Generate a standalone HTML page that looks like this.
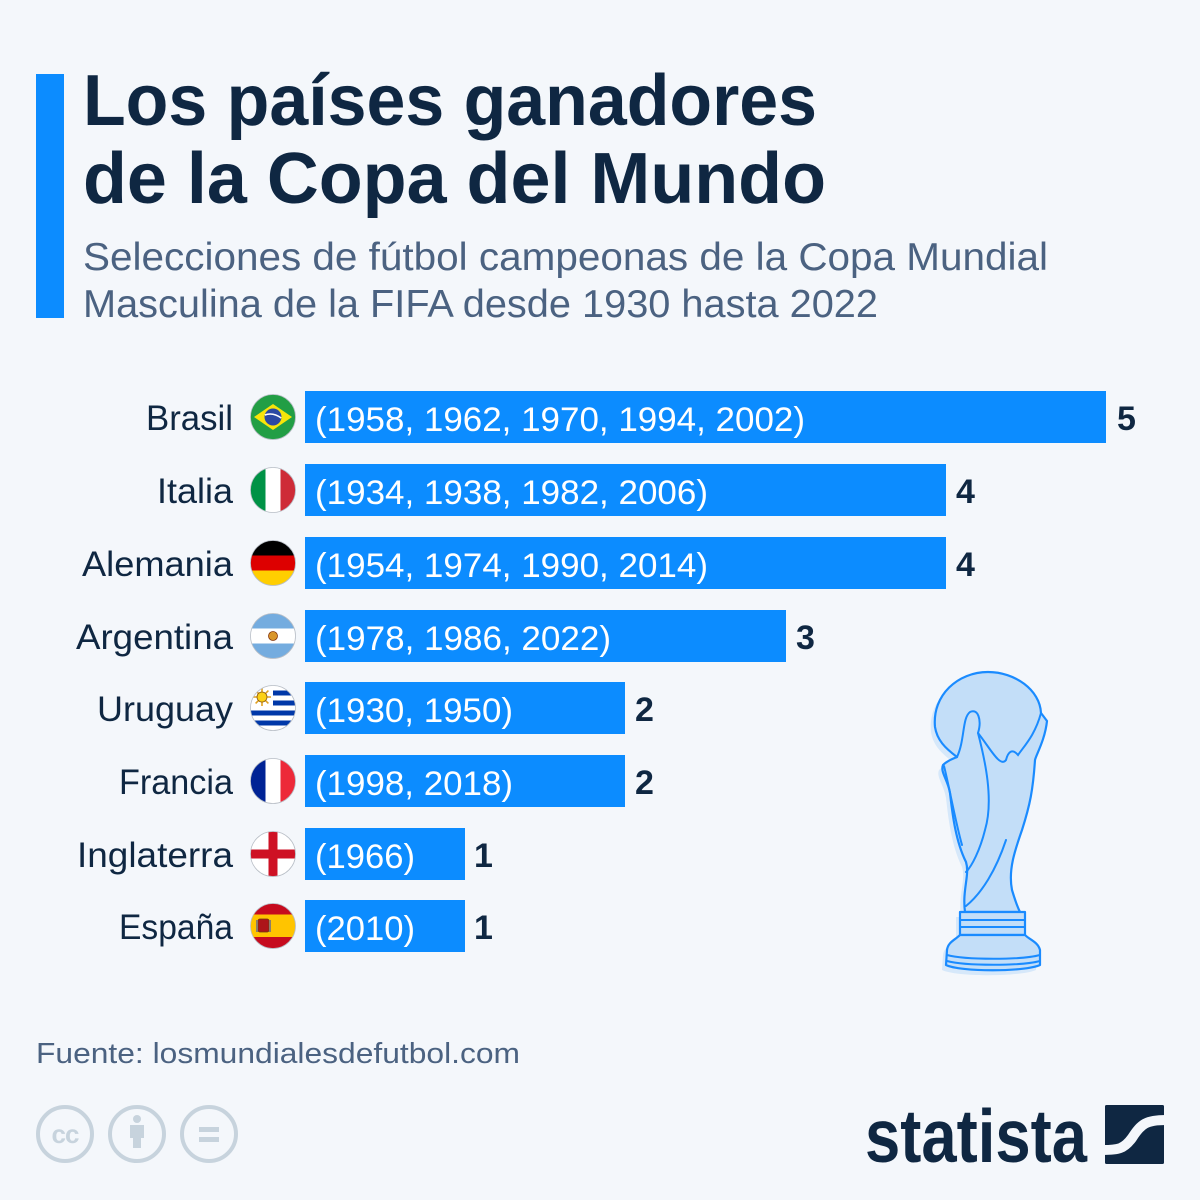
<!DOCTYPE html>
<html>
<head>
<meta charset="utf-8">
<style>
html,body{margin:0;padding:0;background:#f4f7fb;}
svg{display:block;}
text{font-family:"Liberation Sans",Arial,sans-serif;}
</style>
</head>
<body>
<svg width="1200" height="1200" viewBox="0 0 1200 1200" xmlns="http://www.w3.org/2000/svg">
<rect x="0" y="0" width="1200" height="1200" fill="#f4f7fb"/>

<!-- Header -->
<rect x="36" y="74" width="28" height="244" fill="#0c8cff"/>
<text x="83" y="125" font-size="72" font-weight="bold" fill="#0f2742" textLength="734" lengthAdjust="spacingAndGlyphs">Los países ganadores</text>
<text x="83" y="203" font-size="72" font-weight="bold" fill="#0f2742" textLength="743" lengthAdjust="spacingAndGlyphs">de la Copa del Mundo</text>
<text x="83" y="270" font-size="39" fill="#4b6281" textLength="965" lengthAdjust="spacingAndGlyphs">Selecciones de fútbol campeonas de la Copa Mundial</text>
<text x="83" y="317" font-size="39" fill="#4b6281" textLength="795" lengthAdjust="spacingAndGlyphs">Masculina de la FIFA desde 1930 hasta 2022</text>

<defs>
<clipPath id="c0"><circle cx="273" cy="417" r="22.5"/></clipPath>
<clipPath id="c1"><circle cx="273" cy="490" r="22.5"/></clipPath>
<clipPath id="c2"><circle cx="273" cy="563" r="22.5"/></clipPath>
<clipPath id="c3"><circle cx="273" cy="636" r="22.5"/></clipPath>
<clipPath id="c4"><circle cx="273" cy="708" r="22.5"/></clipPath>
<clipPath id="c5"><circle cx="273" cy="781" r="22.5"/></clipPath>
<clipPath id="c6"><circle cx="273" cy="854" r="22.5"/></clipPath>
<clipPath id="c7"><circle cx="273" cy="926" r="22.5"/></clipPath>
</defs>

<!-- Bars -->
<g fill="#0c8cff">
<rect x="305" y="391" width="801" height="52"/>
<rect x="305" y="464" width="641" height="52"/>
<rect x="305" y="537" width="641" height="52"/>
<rect x="305" y="610" width="481" height="52"/>
<rect x="305" y="682" width="320" height="52"/>
<rect x="305" y="755" width="320" height="52"/>
<rect x="305" y="828" width="160" height="52"/>
<rect x="305" y="900" width="160" height="52"/>
</g>

<!-- Bar texts -->
<g fill="#ffffff" font-size="34">
<text x="315" y="431" textLength="490" lengthAdjust="spacingAndGlyphs">(1958, 1962, 1970, 1994, 2002)</text>
<text x="315" y="504" textLength="393" lengthAdjust="spacingAndGlyphs">(1934, 1938, 1982, 2006)</text>
<text x="315" y="577" textLength="393" lengthAdjust="spacingAndGlyphs">(1954, 1974, 1990, 2014)</text>
<text x="315" y="650" textLength="296" lengthAdjust="spacingAndGlyphs">(1978, 1986, 2022)</text>
<text x="315" y="722" textLength="198" lengthAdjust="spacingAndGlyphs">(1930, 1950)</text>
<text x="315" y="795" textLength="198" lengthAdjust="spacingAndGlyphs">(1998, 2018)</text>
<text x="315" y="868" textLength="100" lengthAdjust="spacingAndGlyphs">(1966)</text>
<text x="315" y="940" textLength="100" lengthAdjust="spacingAndGlyphs">(2010)</text>
</g>

<!-- Values -->
<g fill="#0f2742" font-size="34" font-weight="bold">
<text x="1117" y="430">5</text>
<text x="956" y="503">4</text>
<text x="956" y="576">4</text>
<text x="796" y="649">3</text>
<text x="635" y="721">2</text>
<text x="635" y="794">2</text>
<text x="474" y="867">1</text>
<text x="474" y="939">1</text>
</g>

<!-- Country labels -->
<g fill="#0f2742" font-size="35" text-anchor="end">
<text x="233" y="430" textLength="87" lengthAdjust="spacingAndGlyphs">Brasil</text>
<text x="233" y="503" textLength="76" lengthAdjust="spacingAndGlyphs">Italia</text>
<text x="233" y="576" textLength="151" lengthAdjust="spacingAndGlyphs">Alemania</text>
<text x="233" y="649" textLength="157" lengthAdjust="spacingAndGlyphs">Argentina</text>
<text x="233" y="721" textLength="136" lengthAdjust="spacingAndGlyphs">Uruguay</text>
<text x="233" y="794" textLength="114" lengthAdjust="spacingAndGlyphs">Francia</text>
<text x="233" y="867" textLength="156" lengthAdjust="spacingAndGlyphs">Inglaterra</text>
<text x="233" y="939" textLength="114" lengthAdjust="spacingAndGlyphs">España</text>
</g>

<!-- Flags -->
<!-- Brasil -->
<g clip-path="url(#c0)">
<rect x="250" y="394" width="46" height="46" fill="#229e45"/>
<polygon points="254,417 273,404 292,417 273,430" fill="#f8e509"/>
<circle cx="273" cy="417" r="8.5" fill="#2b49a3"/>
<path d="M264.8 415 Q273 412 281.2 418" stroke="#fff" stroke-width="1.6" fill="none"/>
</g>
<circle cx="273" cy="417" r="22.5" fill="none" stroke="#b8bec6" stroke-width="0.8"/>
<!-- Italia -->
<g clip-path="url(#c1)">
<rect x="250" y="467" width="16" height="46" fill="#009246"/>
<rect x="265.5" y="467" width="15" height="46" fill="#ffffff"/>
<rect x="280.5" y="467" width="16" height="46" fill="#ce2b37"/>
</g>
<circle cx="273" cy="490" r="22.5" fill="none" stroke="#b8bec6" stroke-width="0.8"/>
<!-- Alemania -->
<g clip-path="url(#c2)">
<rect x="250" y="540" width="46" height="16" fill="#000000"/>
<rect x="250" y="555.5" width="46" height="15" fill="#dd0000"/>
<rect x="250" y="570.5" width="46" height="16" fill="#ffce00"/>
</g>
<circle cx="273" cy="563" r="22.5" fill="none" stroke="#b8bec6" stroke-width="0.8"/>
<!-- Argentina -->
<g clip-path="url(#c3)">
<rect x="250" y="613" width="46" height="16" fill="#74acdf"/>
<rect x="250" y="628.5" width="46" height="15" fill="#ffffff"/>
<rect x="250" y="643.5" width="46" height="16" fill="#74acdf"/>
<circle cx="273" cy="636" r="4.5" fill="#d9962a" stroke="#85340a" stroke-width="0.8"/>
</g>
<circle cx="273" cy="636" r="22.5" fill="none" stroke="#b8bec6" stroke-width="0.8"/>
<!-- Uruguay -->
<g clip-path="url(#c4)">
<rect x="250" y="685" width="46" height="46" fill="#ffffff"/>
<rect x="250" y="690.5" width="46" height="5" fill="#0038a8"/>
<rect x="250" y="700.5" width="46" height="5" fill="#0038a8"/>
<rect x="250" y="710.5" width="46" height="5" fill="#0038a8"/>
<rect x="250" y="720.5" width="46" height="5" fill="#0038a8"/>
<rect x="250" y="685" width="23" height="23" fill="#ffffff"/>
<g stroke="#e0a020" stroke-width="1.6">
<line x1="262" y1="688" x2="262" y2="706"/>
<line x1="253" y1="697" x2="271" y2="697"/>
<line x1="255.6" y1="690.6" x2="268.4" y2="703.4"/>
<line x1="255.6" y1="703.4" x2="268.4" y2="690.6"/>
</g>
<circle cx="262" cy="697" r="5" fill="#fcd116" stroke="#8b5a14" stroke-width="0.8"/>
</g>
<circle cx="273" cy="708" r="22.5" fill="none" stroke="#b8bec6" stroke-width="0.8"/>
<!-- Francia -->
<g clip-path="url(#c5)">
<rect x="250" y="758" width="16" height="46" fill="#002395"/>
<rect x="265.5" y="758" width="15" height="46" fill="#ffffff"/>
<rect x="280.5" y="758" width="16" height="46" fill="#ed2939"/>
</g>
<circle cx="273" cy="781" r="22.5" fill="none" stroke="#b8bec6" stroke-width="0.8"/>
<!-- Inglaterra -->
<g clip-path="url(#c6)">
<rect x="250" y="831" width="46" height="46" fill="#ffffff"/>
<rect x="268.5" y="831" width="9" height="46" fill="#ce1124"/>
<rect x="250" y="849.5" width="46" height="9" fill="#ce1124"/>
</g>
<circle cx="273" cy="854" r="22.5" fill="none" stroke="#b8bec6" stroke-width="0.8"/>
<!-- España -->
<g clip-path="url(#c7)">
<rect x="250" y="903" width="46" height="12" fill="#c60b1e"/>
<rect x="250" y="914.5" width="46" height="23" fill="#ffc400"/>
<rect x="250" y="937" width="46" height="12" fill="#c60b1e"/>
<rect x="258" y="919" width="11" height="13" rx="2" fill="#ad1519" stroke="#6b3a0e" stroke-width="0.8"/>
<rect x="256" y="920" width="2" height="12" fill="#8b7d6b"/>
<rect x="269" y="920" width="2" height="12" fill="#8b7d6b"/>
</g>
<circle cx="273" cy="926" r="22.5" fill="none" stroke="#b8bec6" stroke-width="0.8"/>

<!-- Trophy -->
<g transform="translate(-4,5)" fill="#d6e8fa" stroke="none">
<path d="M965 912 C962 890,970 875,966 862 C955 840,952 810,950 793 C948 780,940 772,943 765 C948 760,955 758,957 757 C945 748,937 740,935 727 C932 695,958 672,988 672 C1015 672,1040 690,1041 713 L1047 721 C1045 740,1036 755,1035 760 C1033 790,1030 805,1022 830 C1015 850,1008 870,1012 890 C1015 900,1018 908,1020 912 Z"/>
<path d="M960 912 L1025 912 L1025 935 C1030 940,1038 942,1040 950 L1040 965 C1025 972,960 972,946 965 L947 950 C948 942,955 940,960 935 Z"/>
</g>
<g fill="#c3def8" stroke="#1a8bff" stroke-width="2.2" stroke-linejoin="round">
<path d="M965 912 C962 890,970 875,966 862 C955 840,952 810,950 793 C948 780,940 772,943 765 C948 760,955 758,957 757 C945 748,937 740,935 727 C932 695,958 672,988 672 C1015 672,1040 690,1041 713 L1047 721 C1045 740,1036 755,1035 760 C1033 790,1030 805,1022 830 C1015 850,1008 870,1012 890 C1015 900,1018 908,1020 912 Z"/>
<path d="M960 912 L1025 912 L1025 935 L960 935 Z"/>
<path d="M960 935 C955 940,948 942,947 950 L946 965 C960 972,1025 972,1040 965 L1040 950 C1038 942,1030 940,1025 935 Z"/>
</g>
<g fill="none" stroke="#1a8bff" stroke-width="2" stroke-linecap="round">
<path d="M957 757 C965 740,962 718,970 712 C978 708,982 720,978 733 C985 760,994 800,985 830 C980 850,972 866,966 872"/>
<path d="M978 733 C990 748,1000 768,1006 760 C1008 752,1012 748,1018 755 C1025 745,1035 735,1041 713"/>
<path d="M1006 840 C996 870,982 893,966 906"/>
<path d="M944 766 C950 790,955 820,962 845"/>
<path d="M961 920 L1024 920"/>
<path d="M961 927 L1024 927"/>
<path d="M947 955 C965 960,1022 960,1040 955"/>
<path d="M947 961 C965 966,1022 966,1040 961"/>
</g>

<!-- Source -->
<text x="36" y="1063" font-size="29" fill="#4b6281" textLength="484" lengthAdjust="spacingAndGlyphs">Fuente: losmundialesdefutbol.com</text>

<!-- CC icons -->
<g fill="none" stroke="#c7d3dd" stroke-width="4">
<circle cx="65" cy="1134" r="27"/>
<circle cx="137" cy="1134" r="27"/>
<circle cx="209" cy="1134" r="27"/>
</g>
<text x="65" y="1143" font-size="26" font-weight="bold" fill="#c7d3dd" text-anchor="middle" letter-spacing="-1">cc</text>
<g fill="#c7d3dd">
<circle cx="137" cy="1119" r="4"/>
<rect x="130" y="1125" width="14" height="13"/>
<rect x="133" y="1136" width="8" height="12"/>
<rect x="199" y="1127" width="20" height="5"/>
<rect x="199" y="1137" width="20" height="5"/>
</g>

<!-- Statista logo -->
<text x="865" y="1162" font-size="75" font-weight="bold" fill="#0f2742" textLength="222" lengthAdjust="spacingAndGlyphs">statista</text>
<rect x="1105" y="1105" width="59" height="59" rx="1.5" fill="#0f2742"/>
<path d="M1103 1150 C1118 1150,1124 1149,1132 1138 C1141 1124,1146 1120,1166 1120" stroke="#f4f7fb" stroke-width="10" fill="none"/>
</svg>
</body>
</html>
